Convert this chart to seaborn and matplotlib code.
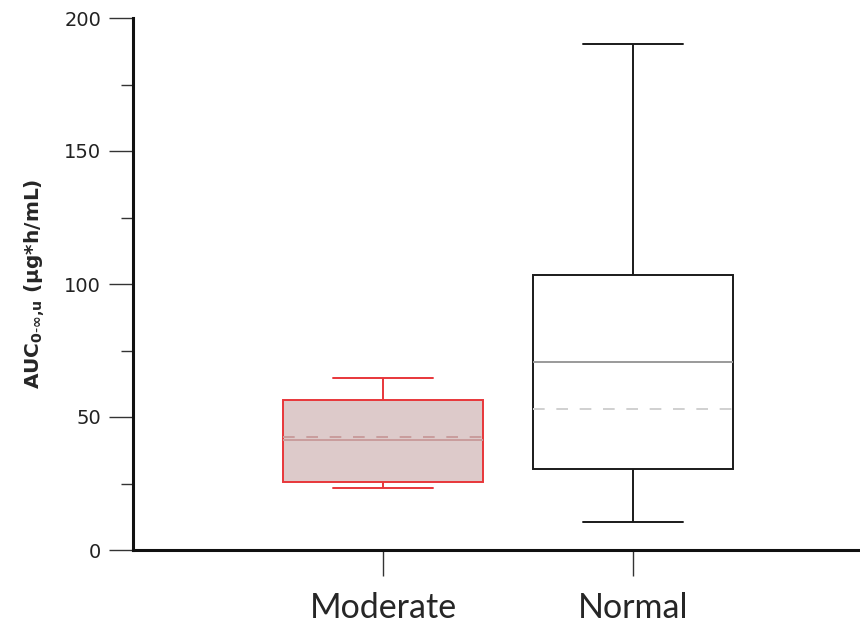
import numpy as np
import pandas as pd
import matplotlib
matplotlib.use("Agg")
import matplotlib.pyplot as plt
import seaborn as sns

# ---- data ----
groups = ["Moderate", "Normal"]
whisker_low = [23.3, 10.4]
q1 = [25.6, 30.5]
median = [41.4, 70.7]
q3 = [56.4, 103.4]
whisker_high = [64.7, 190.3]
mean = [42.5, 53.0]

edge_colors = ["#E8363A", "#1a1a1a"]
face_colors = ["#DDCACA", "#FFFFFF"]
median_colors = ["#C99C9C", "#9A9A9A"]
mean_colors = ["#C99C9C", "#D0D0D0"]

yticks_major = [0, 50, 100, 150, 200]
yticks_minor = [25, 75, 125, 175]

# five-number samples: with n=5 the linear percentiles equal these values exactly
rows = []
for g, a, b, c, d, e in zip(groups, whisker_low, q1, median, q3, whisker_high):
    for v in (a, b, c, d, e):
        rows.append({"group": g, "value": v})
df = pd.DataFrame(rows)

sns.set_style("white")
fig = plt.figure(figsize=(8.6, 6.26), dpi=100)
ax = fig.add_axes([133 / 860, 76 / 626, 1 - 133 / 860, 532 / 626])

PX = 0.72  # points per pixel at 100 dpi

for i, g in enumerate(groups):
    sub = df[df["group"] == g]
    sns.boxplot(data=sub, x="group", y="value", order=groups, ax=ax,
                whis=(0, 100), width=0.8, showfliers=False,
                color=face_colors[i], linecolor=edge_colors[i], linewidth=1.4,
                saturation=1,
                boxprops=dict(facecolor=face_colors[i], edgecolor=edge_colors[i], linewidth=1.4),
                whiskerprops=dict(color=edge_colors[i], linewidth=1.4),
                capprops=dict(color=edge_colors[i], linewidth=1.4),
                medianprops=dict(color=median_colors[i], linewidth=1.4))
    ax.hlines(mean[i], i - 0.4, i + 0.4, colors=mean_colors[i],
              linestyles=(0, (6, 6)), linewidth=1.4, zorder=5)

# caps at half of the box width
for line in ax.lines:
    xd = np.asarray(line.get_xdata(), dtype=float)
    yd = np.asarray(line.get_ydata(), dtype=float)
    if len(xd) == 2 and yd[0] == yd[1] and abs(xd[1] - xd[0]) > 0.01:
        cx = (xd[0] + xd[1]) / 2
        if any(np.isclose(yd[0], v) for v in whisker_low + whisker_high):
            line.set_xdata([cx - 0.2, cx + 0.2])

ax.set_xlim(-1.0, 1.908)
ax.set_ylim(0, 200)
ax.set_yticks(yticks_major)
ax.set_yticks(yticks_minor, minor=True)
ax.set_yticklabels([str(t) for t in yticks_major], fontsize=14, color="#222222",
                   family=["DejaVu Sans"])
ax.set_xticks(range(len(groups)))
ax.set_xticklabels(groups, fontsize=24.5, family=["Lato", "DejaVu Sans"])

ax.tick_params(axis="y", which="major", length=24 * PX, width=1.0, color="#333333",
               direction="out", left=True, pad=8 * PX)
ax.tick_params(axis="y", which="minor", length=12 * PX, width=1.0, color="#333333",
               direction="out", left=True)
ax.tick_params(axis="x", which="major", length=26 * PX, width=1.0, color="#333333",
               direction="out", bottom=True, pad=16 * PX)

for s in ["top", "right"]:
    ax.spines[s].set_visible(False)
for s in ["left", "bottom"]:
    ax.spines[s].set_color("#111111")
    ax.spines[s].set_linewidth(2.2)

ax.set_xlabel("")
ax.set_ylabel(r"AUC$_{\mathbf{0\text{-}\infty{,}u}}$ (µg*h/mL)", fontsize=14.5,
              fontweight="bold", labelpad=12)

fig.savefig("out.png", dpi=100)
